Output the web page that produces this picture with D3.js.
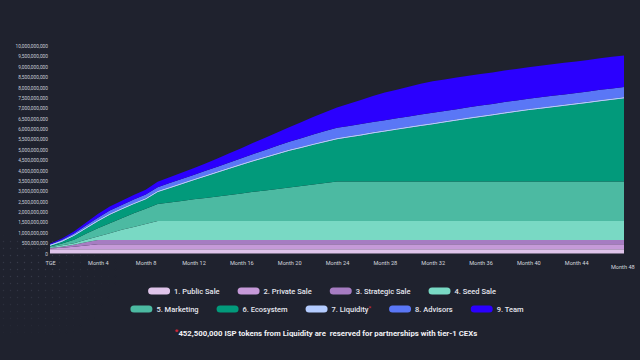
<!DOCTYPE html>
<html lang="en">
<head>
<meta charset="UTF-8" />
<title>Token unlock schedule</title>
<style>
	html, body {
		margin: 0;
		padding: 0;
		width: 100%;
		height: 100%;
		overflow: hidden;
		background-color: #1f222e;
		font-family: Roboto, 'Noto Sans', sans-serif;
	}
	#chart { position: absolute; top: 0; left: 0; }
	.note { white-space: pre; }
</style>
</head>
<body>
<svg id="chart"></svg>
<script src="https://d3js.org/d3.v7.min.js"></script>
<script>
	// unlocked tokens per month, in millions
	const months = d3.range(49);
	const publicSale = [200,200,200,200,200,200,200,200,200,200,200,200,200,200,200,200,200,200,200,200,200,200,200,200,200,200,200,200,200,200,200,200,200,200,200,200,200,200,200,200,200,200,200,200,200,200,200,200,200];
	const privateSale = [40,80,130,190,250,250,250,250,250,250,250,250,250,250,250,250,250,250,250,250,250,250,250,250,250,250,250,250,250,250,250,250,250,250,250,250,250,250,250,250,250,250,250,250,250,250,250,250,250];
	const strategicSale = [20,50,90,150,200,200,200,200,200,200,200,200,200,200,200,200,200,200,200,200,200,200,200,200,200,200,200,200,200,200,200,200,200,200,200,200,200,200,200,200,200,200,200,200,200,200,200,200,200];
	const seedSale = [40,70,80,120,170,330,490,630,770,920,920,920,920,920,920,920,920,920,920,920,920,920,920,920,920,920,920,920,920,920,920,920,920,920,920,920,920,920,920,920,920,920,920,920,920,920,920,920,920];
	const marketing = [40,80,160,290,400,480,560,660,740,820,890,960,1040,1110,1180,1250,1320,1400,1470,1540,1610,1680,1760,1830,1900,1900,1900,1900,1900,1900,1900,1900,1900,1900,1900,1900,1900,1900,1900,1900,1900,1900,1900,1900,1900,1900,1900,1900,1900];
	const ecosystem = [30,90,190,250,330,410,430,440,450,570,690,810,920,1035,1150,1265,1380,1478,1575,1673,1770,1838,1905,1973,2040,2130,2220,2320,2410,2500,2590,2680,2760,2850,2940,3030,3110,3190,3280,3360,3440,3510,3580,3650,3720,3790,3870,3940,4010];
	const liquidity = [47.5,47.5,47.5,47.5,47.5,47.5,47.5,47.5,47.5,47.5,47.5,47.5,47.5,47.5,47.5,47.5,47.5,47.5,47.5,47.5,47.5,47.5,47.5,47.5,47.5,47.5,47.5,47.5,47.5,47.5,47.5,47.5,47.5,47.5,47.5,47.5,47.5,47.5,47.5,47.5,47.5,47.5,47.5,47.5,47.5,47.5,47.5,47.5,47.5];
	const advisors = [10,40,70,100,130,150,160,170,180,190,195,200,210,220,235,250,270,300,330,360,390,420,450,480,500,500,500,500,500,500,500,500,500,500,500,500,500,500,500,500,500,500,500,500,500,500,500,500,500];
	const team = [40,60,90,130,180,195,210,225,240,260,280,300,320,360,400,445,490,540,590,645,700,770,840,910,980,1070,1160,1250,1330,1380,1430,1480,1520,1520,1520,1520,1520,1520,1520,1520,1520,1520,1520,1520,1520,1520,1520,1520,1520];

	const seriesNames = ['1. Public Sale', '2. Private Sale', '3. Strategic Sale', '4. Seed Sale',
		'5. Marketing', '6. Ecosystem', '7. Liquidity', '8. Advisors', '9. Team'];
	const seriesValues = [publicSale, privateSale, strategicSale, seedSale, marketing, ecosystem, liquidity, advisors, team];
	const colors = ['#dfc4ea', '#c69ad9', '#a67cc2', '#79d9c4', '#4cbaa2', '#029a7b', '#b4ccff', '#5a77f6', '#2b00fe'];

	const xTicks = [0, 4, 8, 12, 16, 20, 24, 28, 32, 36, 40, 44, 48];
	const xTickLabels = ['TGE', 'Month 4', 'Month 8', 'Month 12', 'Month 16', 'Month 20', 'Month 24',
		'Month 28', 'Month 32', 'Month 36', 'Month 40', 'Month 44', 'Month 48'];
	const yTicks = d3.range(0, 10000000001, 500000000);
	const note = '452,500,000 ISP tokens from Liquidity are  reserved for partnerships with tier-1 CEXs';

	const width = 640, height = 360;
	const svg = d3.select('#chart').attr('width', width).attr('height', height);

	// dotted decoration, bottom left
	const defs = svg.append('defs');
	defs.append('pattern')
		.attr('id', 'dots')
		.attr('width', 7).attr('height', 7)
		.attr('patternUnits', 'userSpaceOnUse')
		.append('circle')
		.attr('cx', 3.5).attr('cy', 3.5).attr('r', 0.7)
		.attr('fill', '#3a3e4d');
	const fade = defs.append('radialGradient').attr('id', 'fade')
		.attr('cx', 0.2).attr('cy', 0.3).attr('r', 0.8);
	fade.append('stop').attr('offset', '0%').attr('stop-color', '#fff').attr('stop-opacity', 1);
	fade.append('stop').attr('offset', '100%').attr('stop-color', '#fff').attr('stop-opacity', 0);
	defs.append('mask').attr('id', 'dotmask')
		.append('rect').attr('x', 0).attr('y', 235).attr('width', 120).attr('height', 100)
		.attr('fill', 'url(#fade)');
	svg.append('rect')
		.attr('x', 0).attr('y', 235).attr('width', 120).attr('height', 100)
		.attr('fill', 'url(#dots)')
		.attr('mask', 'url(#dotmask)');

	const x = d3.scaleLinear().domain([0, 48]).range([50, 624]);
	const y = d3.scaleLinear().domain([0, 10000000000]).range([253.5, 46]);

	const table = months.map((m, i) => {
		const row = { month: m };
		seriesNames.forEach((name, k) => { row[name] = seriesValues[k][i] * 1e6; });
		return row;
	});

	const stacked = d3.stack().keys(seriesNames)(table);

	const area = d3.area()
		.x((d) => x(d.data.month))
		.y0((d) => y(d[0]))
		.y1((d) => y(d[1]));

	svg.append('g')
		.selectAll('path')
		.data(stacked)
		.join('path')
		.attr('d', area)
		.attr('fill', (d, i) => colors[i]);

	// liquidity is thin, give it a visible edge
	const liqLayer = stacked[seriesNames.indexOf('7. Liquidity')];
	svg.append('path')
		.datum(liqLayer)
		.attr('fill', 'none')
		.attr('stroke', colors[6])
		.attr('stroke-width', 1)
		.attr('d', d3.line().x((d) => x(d.data.month)).y((d) => y((d[0] + d[1]) / 2)));

	// y axis
	const yAxis = svg.append('g')
		.attr('transform', 'translate(48,0)')
		.call(d3.axisLeft(y).tickValues(yTicks).tickSize(0).tickPadding(0).tickFormat(d3.format(',')));
	yAxis.select('.domain').remove();
	yAxis.selectAll('text')
		.attr('fill', '#c9ccd6')
		.attr('font-size', 4.8)
		.attr('font-family', 'Roboto, sans-serif');

	// x axis
	const xAxis = svg.append('g')
		.attr('transform', 'translate(0,261)')
		.call(d3.axisBottom(x).tickValues(xTicks).tickSize(0).tickPadding(0)
			.tickFormat((d, i) => xTickLabels[i]));
	xAxis.select('.domain').remove();
	xAxis.selectAll('text')
		.attr('fill', '#d4d7df')
		.attr('font-size', 5.6)
		.attr('font-family', 'Roboto, sans-serif')
		.attr('dy', (d) => (d === 48 ? '1.5em' : '0.71em'))
		.attr('dx', (d) => (d === 48 ? '-0.3em' : 0));

	// legend
	const legendRows = [seriesNames.slice(0, 4), seriesNames.slice(4)];
	const rowY = [291, 309];
	const swW = 22, swH = 7, gapText = 4, gapItem = 18;
	legendRows.forEach((names, r) => {
		const g = svg.append('g');
		let cx = 0;
		names.forEach((name) => {
			const k = seriesNames.indexOf(name);
			const item = g.append('g').attr('transform', `translate(${cx},0)`);
			item.append('rect')
				.attr('x', 0).attr('y', rowY[r] - swH / 2)
				.attr('width', swW).attr('height', swH)
				.attr('rx', swH / 2)
				.attr('fill', colors[k]);
			const t = item.append('text')
				.attr('x', swW + gapText).attr('y', rowY[r])
				.attr('dy', '0.35em')
				.attr('fill', '#e6e7ee')
				.attr('font-size', 7.5)
				.attr('font-weight', 500)
				.text(name);
			if (name === '7. Liquidity') {
				t.append('tspan').attr('fill', '#e0283c').attr('font-size', 6).attr('dy', '-0.2em').text('*');
			}
			cx += swW + gapText + t.node().getComputedTextLength() + gapItem;
		});
		const w = cx - gapItem;
		g.attr('transform', `translate(${(r === 0 ? 322 : 327) - w / 2},0)`);
	});

	// footnote
	const foot = svg.append('text')
		.attr('class', 'note')
		.attr('x', 326).attr('y', 336)
		.attr('text-anchor', 'middle')
		.attr('fill', '#f0f0f4')
		.attr('font-size', 7.8)
		.attr('font-weight', 700);
	foot.append('tspan').attr('fill', '#e0283c').attr('dy', '-0.2em').text('*');
	foot.append('tspan').attr('dy', '0.2em').text(note);
</script>
</body>
</html>
